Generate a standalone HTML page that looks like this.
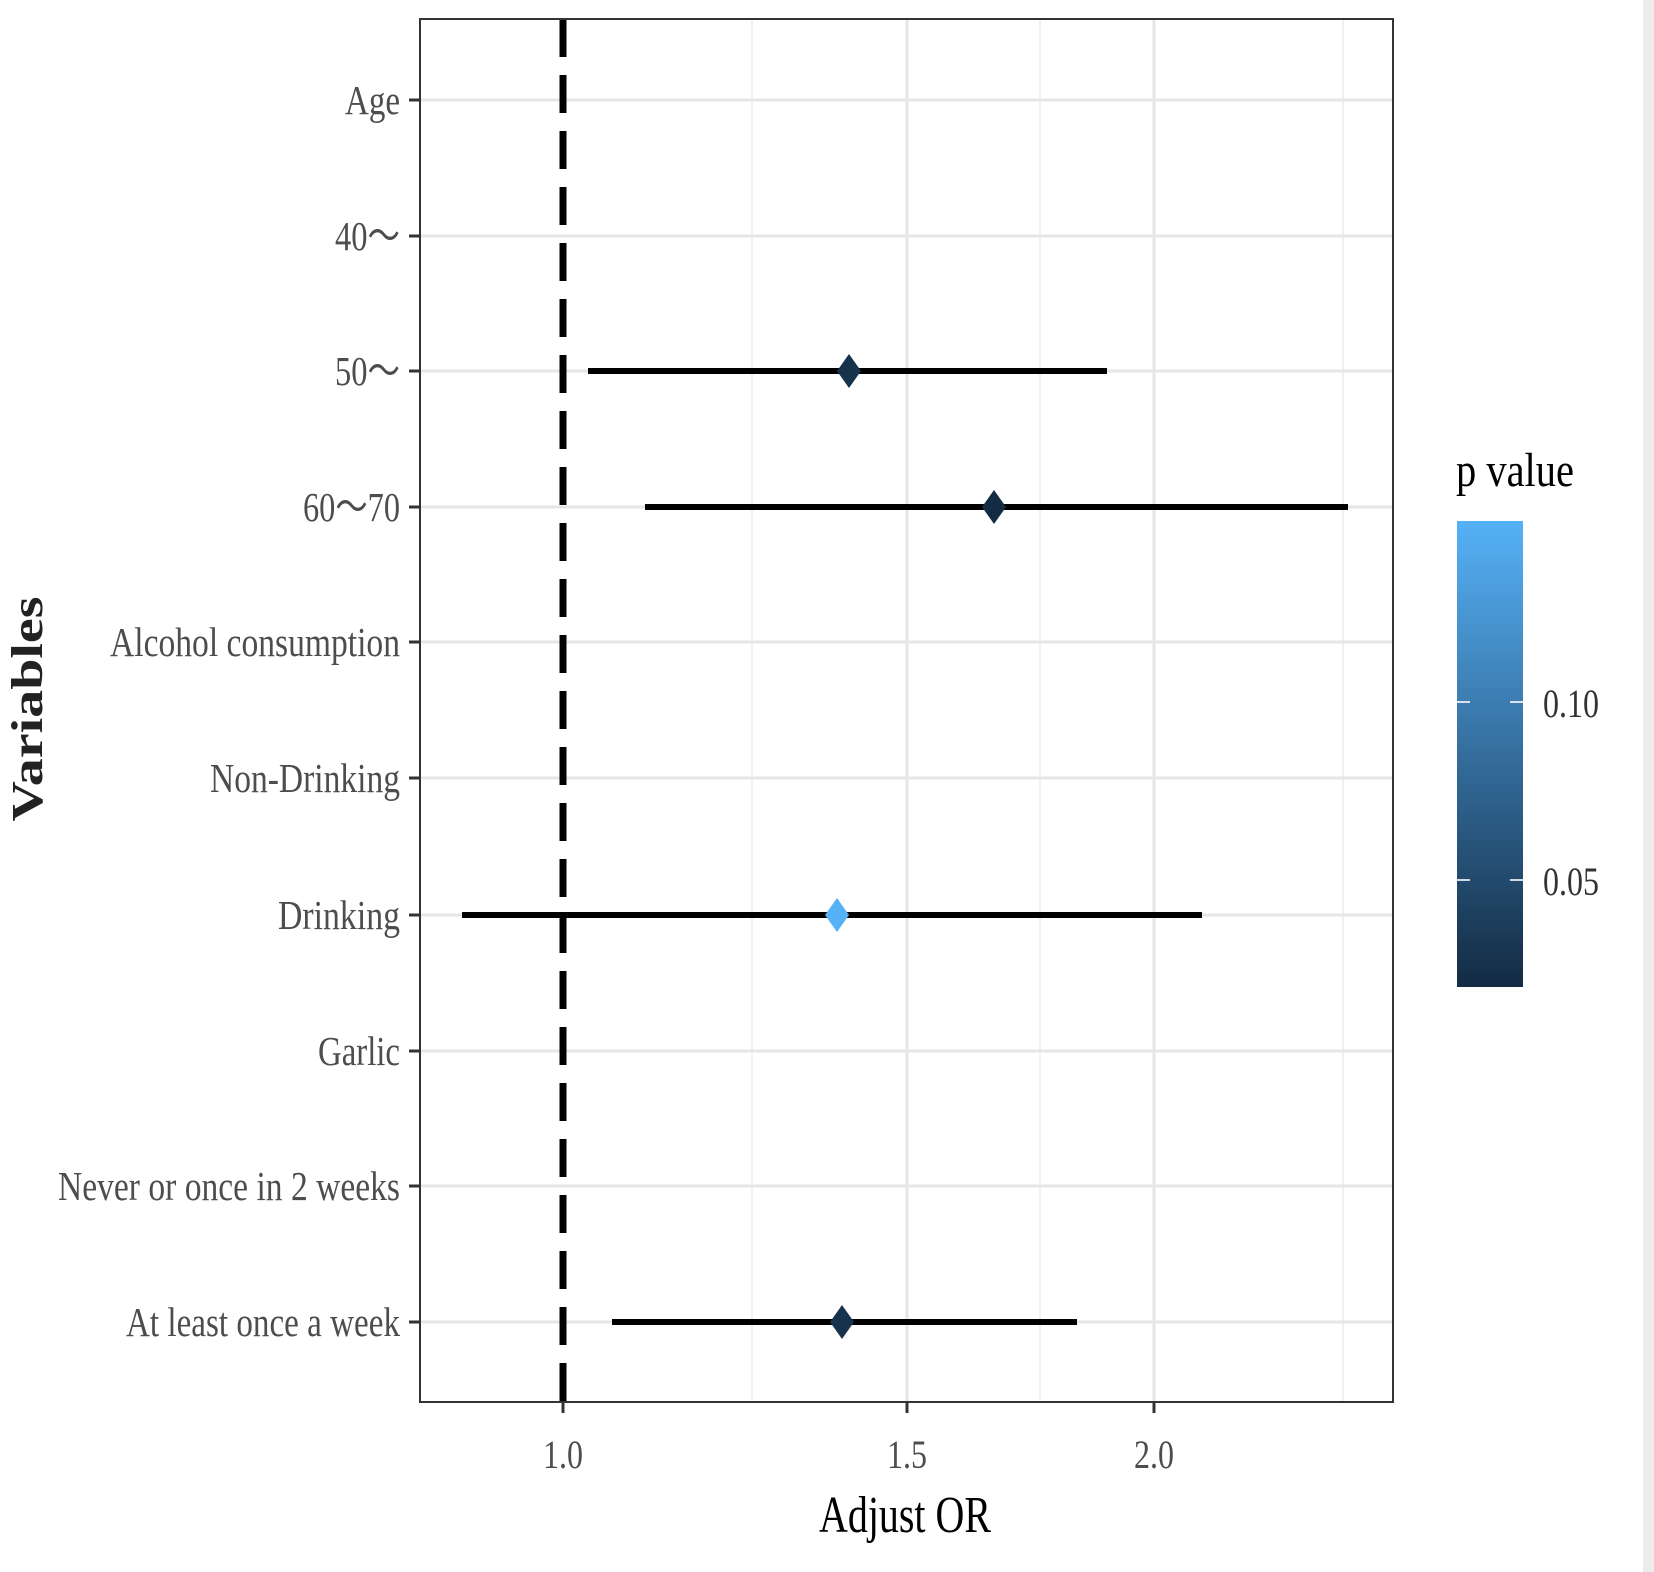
<!DOCTYPE html>
<html><head><meta charset="utf-8"><style>html,body{margin:0;padding:0;background:#fff}svg{display:block}</style></head>
<body>
<svg width="1654" height="1572" viewBox="0 0 1654 1572" xmlns="http://www.w3.org/2000/svg">
<defs><linearGradient id="g" x1="0" y1="1" x2="0" y2="0"><stop offset="0" stop-color="#132B43"/><stop offset="1" stop-color="#56B1F7"/></linearGradient></defs>
<rect x="0" y="0" width="1654" height="1572" fill="#fff"/>
<rect x="1643" y="0" width="11" height="1572" fill="#ececec"/>
<g stroke="#ebebeb" stroke-width="1.5">
<line x1="752" y1="19" x2="752" y2="1402"/><line x1="1040" y1="19" x2="1040" y2="1402"/><line x1="1343" y1="19" x2="1343" y2="1402"/>
</g>
<g stroke="#e6e6e6" stroke-width="3">
<line x1="907" y1="19" x2="907" y2="1402"/><line x1="1154" y1="19" x2="1154" y2="1402"/>
<line x1="420" y1="100" x2="1393" y2="100"/><line x1="420" y1="236" x2="1393" y2="236"/><line x1="420" y1="371" x2="1393" y2="371"/><line x1="420" y1="507" x2="1393" y2="507"/><line x1="420" y1="642" x2="1393" y2="642"/><line x1="420" y1="778" x2="1393" y2="778"/><line x1="420" y1="915" x2="1393" y2="915"/><line x1="420" y1="1051" x2="1393" y2="1051"/><line x1="420" y1="1186" x2="1393" y2="1186"/><line x1="420" y1="1322" x2="1393" y2="1322"/>
</g>
<line x1="563" y1="19" x2="563" y2="1402" stroke="#000" stroke-width="7" stroke-dasharray="38,18"/>
<g stroke="#000" stroke-width="6">
<line x1="588" y1="371" x2="1107" y2="371"/><line x1="645" y1="507" x2="1348" y2="507"/><line x1="462" y1="915" x2="1202" y2="915"/><line x1="612" y1="1322" x2="1077" y2="1322"/>
</g>
<g>
<polygon points="849,354 861,371 849,388 837,371" fill="#17324d"/>
<polygon points="994,490 1006,507 994,524 982,507" fill="#132B43"/>
<polygon points="837,898 849,915 837,932 825,915" fill="#56B1F7"/>
<polygon points="842,1305 854,1322 842,1339 830,1322" fill="#17324d"/>
</g>
<rect x="420" y="19" width="973" height="1383" fill="none" stroke="#333" stroke-width="2"/>
<g stroke="#333" stroke-width="3">
<line x1="409" y1="100" x2="420" y2="100"/><line x1="409" y1="236" x2="420" y2="236"/><line x1="409" y1="371" x2="420" y2="371"/><line x1="409" y1="507" x2="420" y2="507"/><line x1="409" y1="642" x2="420" y2="642"/><line x1="409" y1="778" x2="420" y2="778"/><line x1="409" y1="915" x2="420" y2="915"/><line x1="409" y1="1051" x2="420" y2="1051"/><line x1="409" y1="1186" x2="420" y2="1186"/><line x1="409" y1="1322" x2="420" y2="1322"/>
<line x1="563" y1="1402" x2="563" y2="1413"/><line x1="907" y1="1402" x2="907" y2="1413"/><line x1="1154" y1="1402" x2="1154" y2="1413"/>
</g>
<g font-family="Liberation Serif, serif" font-size="41" fill="#4d4d4d" text-anchor="end">
<text x="400" y="114" textLength="55" lengthAdjust="spacingAndGlyphs">Age</text>
<text x="400" y="250" textLength="65" lengthAdjust="spacingAndGlyphs">40～</text>
<text x="400" y="385" textLength="65" lengthAdjust="spacingAndGlyphs">50～</text>
<text x="400" y="521" textLength="97" lengthAdjust="spacingAndGlyphs">60～70</text>
<text x="400" y="656" textLength="290" lengthAdjust="spacingAndGlyphs">Alcohol consumption</text>
<text x="400" y="792" textLength="190" lengthAdjust="spacingAndGlyphs">Non-Drinking</text>
<text x="400" y="929" textLength="122" lengthAdjust="spacingAndGlyphs">Drinking</text>
<text x="400" y="1065" textLength="82" lengthAdjust="spacingAndGlyphs">Garlic</text>
<text x="400" y="1200" textLength="342" lengthAdjust="spacingAndGlyphs">Never or once in 2 weeks</text>
<text x="400" y="1336" textLength="274" lengthAdjust="spacingAndGlyphs">At least once a week</text>
</g>
<g font-family="Liberation Serif, serif" font-size="40" fill="#4d4d4d" text-anchor="middle">
<text x="563" y="1468" textLength="40" lengthAdjust="spacingAndGlyphs">1.0</text>
<text x="907" y="1468" textLength="40" lengthAdjust="spacingAndGlyphs">1.5</text>
<text x="1154" y="1468" textLength="40" lengthAdjust="spacingAndGlyphs">2.0</text>
</g>
<text x="905" y="1532" text-anchor="middle" font-family="Liberation Serif, serif" font-size="52" fill="#000" textLength="172" lengthAdjust="spacingAndGlyphs">Adjust OR</text>
<text transform="translate(42,709) rotate(-90)" text-anchor="middle" font-family="Liberation Serif, serif" font-size="44" font-weight="bold" fill="#222" textLength="225" lengthAdjust="spacingAndGlyphs">Variables</text>
<text x="1456" y="486" font-family="Liberation Serif, serif" font-size="48" fill="#000" textLength="118" lengthAdjust="spacingAndGlyphs">p value</text>
<rect x="1457" y="521" width="66" height="466" fill="url(#g)"/>
<g stroke="#fff" stroke-width="2" opacity="0.8">
<line x1="1457" y1="702" x2="1470" y2="702"/><line x1="1510" y1="702" x2="1523" y2="702"/>
<line x1="1457" y1="880" x2="1470" y2="880"/><line x1="1510" y1="880" x2="1523" y2="880"/>
</g>
<g font-family="Liberation Serif, serif" font-size="40" fill="#333">
<text x="1543" y="717" textLength="56" lengthAdjust="spacingAndGlyphs">0.10</text>
<text x="1543" y="895" textLength="56" lengthAdjust="spacingAndGlyphs">0.05</text>
</g>
</svg>
</body></html>
